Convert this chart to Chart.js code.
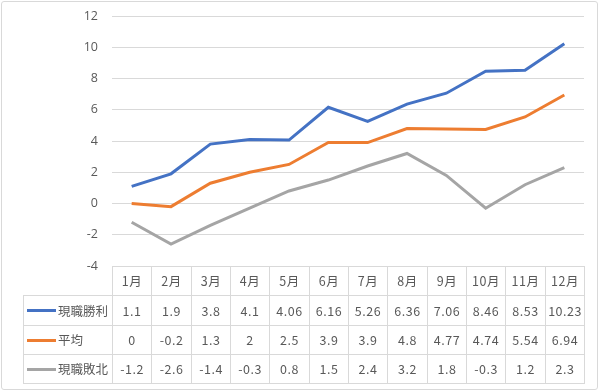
<!DOCTYPE html>
<html>
<head>
<meta charset="utf-8">
<script src="https://cdn.jsdelivr.net/npm/chart.js@4.4.1/dist/chart.umd.min.js"></script>
<style>
  html, body { margin: 0; padding: 0; background: #fff; }
  #wrap { position: relative; width: 600px; height: 392px; overflow: hidden; }
  #frame { position: absolute; left: 1px; top: 1px; width: 595px; height: 387px; border: 1px solid #d9d9d9; border-radius: 3px; pointer-events: none; }
  #c { position: absolute; left: 0; top: 0; }
  #tbl { position: absolute; left: 0; top: 0; width: 600px; height: 392px; font-family: "Noto Sans CJK JP", "Noto Sans", sans-serif; font-size: 12.5px; color: #595959; }
  .cell { position: absolute; box-sizing: border-box; border: 1px solid #d9d9d9; display: flex; align-items: center; justify-content: center; white-space: nowrap; letter-spacing: 0.5px; line-height: 14px; }
  .cell.lab { justify-content: flex-start; padding-left: 3px; letter-spacing: 0; }
  .key { display: inline-block; width: 29px; height: 3px; margin-right: 2px; }
</style>
</head>
<body>
<div id="wrap">
  <canvas id="c" width="600" height="392"></canvas>
  <div id="tbl"></div>
  <div id="frame"></div>
</div>
<script>
const categories = ["1月","2月","3月","4月","5月","6月","7月","8月","9月","10月","11月","12月"];
const seriesNames = ["現職勝利","平均","現職敗北"];
const winValues = [1.1, 1.9, 3.8, 4.1, 4.06, 6.16, 5.26, 6.36, 7.06, 8.46, 8.53, 10.23];
const avgValues = [0, -0.2, 1.3, 2, 2.5, 3.9, 3.9, 4.8, 4.77, 4.74, 5.54, 6.94];
const loseValues = [-1.2, -2.6, -1.4, -0.3, 0.8, 1.5, 2.4, 3.2, 1.8, -0.3, 1.2, 2.3];
const yTicks = [-4, -2, 0, 2, 4, 6, 8, 10, 12];
const colors = ["#4472C4", "#ED7D31", "#A5A5A5"];
const allValues = [winValues, avgValues, loseValues];

const tbl = document.getElementById('tbl');
const ROW_H = 29.25;
const LAB_LEFT = 23;

const placeTable = {
  id: 'placeTable',
  afterLayout(chart) {
    const a = chart.chartArea;
    const colW = (a.right - a.left) / categories.length;
    const top0 = a.bottom;
    const rowTop = r => Math.round(top0 + r * ROW_H);
    const colLeft = c => Math.round(a.left + c * colW);
    let html = '';
    const cell = (x0, x1, y0, y1, content, cls) => {
      html += '<div class="cell ' + (cls || '') + '" style="left:' + x0 + 'px;top:' + y0 + 'px;width:' + (x1 - x0 + 1) + 'px;height:' + (y1 - y0 + 1) + 'px">' + content + '</div>';
    };
    categories.forEach((c, j) => cell(colLeft(j), colLeft(j + 1), rowTop(0), rowTop(1), c));
    seriesNames.forEach((n, i) => {
      cell(LAB_LEFT, Math.round(a.left), rowTop(i + 1), rowTop(i + 2),
        '<span class="key" style="background:' + colors[i] + '"></span>' + n, 'lab');
      allValues[i].forEach((v, j) => cell(colLeft(j), colLeft(j + 1), rowTop(i + 1), rowTop(i + 2), String(v)));
    });
    tbl.innerHTML = html;
  }
};

new Chart(document.getElementById('c'), {
  type: 'line',
  data: {
    labels: categories,
    datasets: seriesNames.map((n, i) => ({
      label: n,
      data: allValues[i],
      borderColor: colors[i],
      backgroundColor: colors[i],
      borderWidth: 3,
      pointRadius: 0,
      tension: 0,
      fill: false
    }))
  },
  options: {
    responsive: false,
    animation: false,
    layout: { padding: { left: 0, right: 16, top: 16, bottom: 126 } },
    plugins: { legend: { display: false }, tooltip: { enabled: false } },
    scales: {
      x: {
        type: 'category',
        offset: true,
        grid: { display: false, drawTicks: false },
        border: { display: false },
        ticks: { display: false },
        afterFit(s) { s.height = 0; s.paddingLeft = 0; s.paddingRight = 0; }
      },
      y: {
        min: -4, max: 12,
        afterBuildTicks(s) { s.ticks = yTicks.map(v => ({ value: v })); },
        grid: { color: '#d9d9d9', lineWidth: 1, drawTicks: false },
        border: { display: false },
        ticks: { color: '#595959', padding: 14, font: { family: 'Open Sans', size: 12.5 } },
        afterFit(s) { s.width = 112; s.paddingTop = 0; s.paddingBottom = 0; }
      }
    }
  },
  plugins: [placeTable]
});
</script>
</body>
</html>
